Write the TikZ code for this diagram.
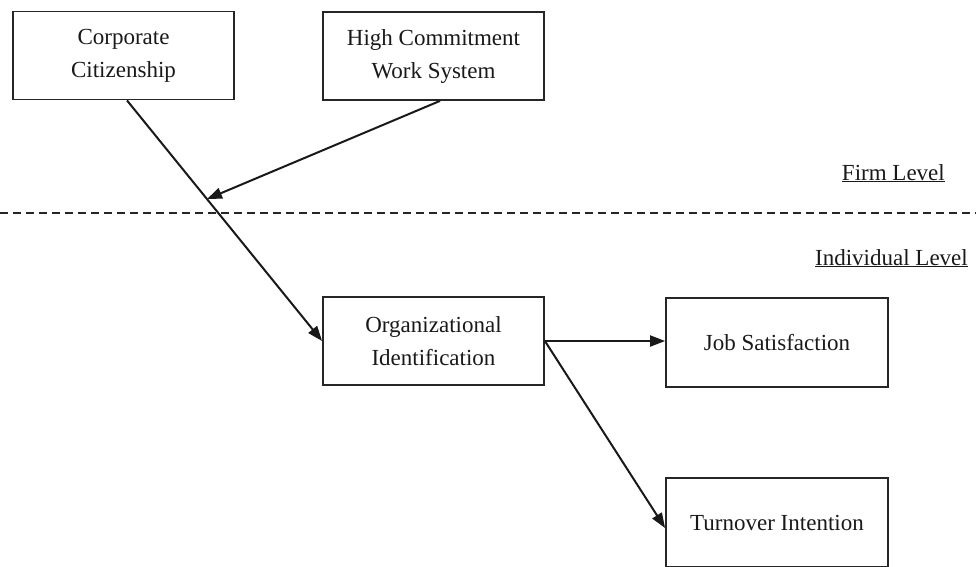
\documentclass[tikz,border=0pt]{standalone}
\usepackage{fontspec}
\setmainfont{Liberation Serif}
\usetikzlibrary{arrows.meta,calc}
\begin{document}
\begin{tikzpicture}[x=1pt,y=-1pt,
  every node/.style={font=\fontsize{23}{33}\selectfont, text=black!90},
  box/.style={draw=black!85, line width=1.8pt, minimum width=221pt, minimum height=88pt, inner sep=0pt, align=center},
  conn/.style={draw=black!90, line width=2pt, -{Triangle[length=15pt,width=11pt]}},
  level/.style={anchor=base east, inner sep=0pt}]
\useasboundingbox (0,0) rectangle (976,566);
\node[box] (CC) at (123.5,55.5) {Corporate\\Citizenship};
\node[box] (HC) at (433.5,56) {High Commitment\\Work System};
\node[box] (OI) at (433.5,341) {Organizational\\Identification};
\node[box, minimum width=222pt, minimum height=89pt] (JS) at (777,342.5) {Job Satisfaction};
\node[box, minimum width=222pt, minimum height=89pt] (TI) at (777,522.5) {Turnover Intention};
\coordinate (L0) at (0,213);
\coordinate (L1) at (976,213);
\draw[line width=1.6pt, dash pattern=on 8pt off 5pt, draw=black!85] (L0) -- (L1);
\node[level] (FL) at (945,180) {\underline{Firm Level}};
\node[level] (IL) at (968,265) {\underline{Individual Level}};
\coordinate (CCs) at ($(CC.south)+(3.5,0)$);
\coordinate (m) at ($(CCs)!0.41!(OI.west)$);
\draw[conn] (CCs) -- (OI.west);
\draw[conn] ($(HC.south)+(6.5,0)$) -- (m);
\draw[conn] (OI.east) -- (OI.east -| JS.west);
\draw[conn] (OI.east) -- ($(TI.west)+(0,5.5)$);
\end{tikzpicture}
\end{document}
